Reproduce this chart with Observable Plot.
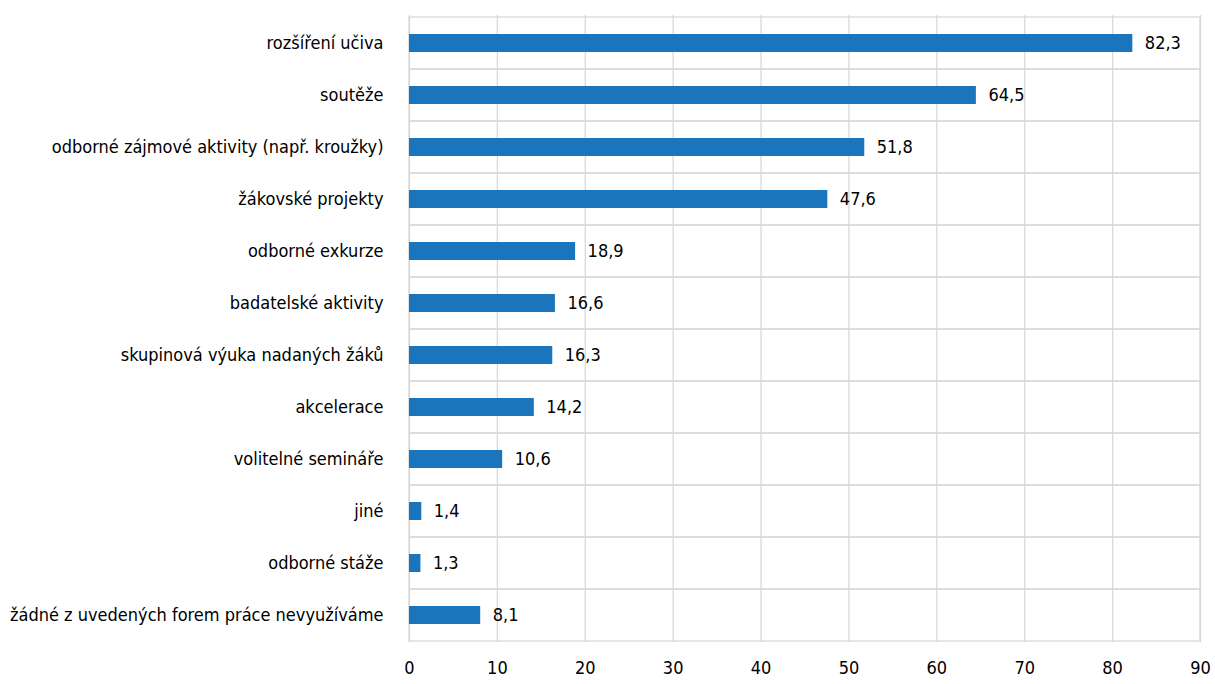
<!DOCTYPE html>
<html><head><meta charset="utf-8">
<script src="https://cdn.jsdelivr.net/npm/d3@7"></script>
<script src="https://cdn.jsdelivr.net/npm/@observablehq/plot@0.6"></script>
<style>
body{margin:0;background:#fff;}
#chart svg{display:block;}
#chart svg text{font-stretch:condensed;}
</style>
</head><body><div id="chart"></div>
<script>
const categories = ["rozšíření učiva","soutěže","odborné zájmové aktivity (např. kroužky)","žákovské projekty","odborné exkurze","badatelské aktivity","skupinová výuka nadaných žáků","akcelerace","volitelné semináře","jiné","odborné stáže","žádné z uvedených forem práce nevyužíváme"];
const values = [82.3,64.5,51.8,47.6,18.9,16.6,16.3,14.2,10.6,1.4,1.3,8.1];
const xTicks = [0,10,20,30,40,50,60,70,80,90];

const data = categories.map((c,i)=>({cat:c, v:values[i]}));
const font = "'DejaVu Sans Condensed','DejaVu Sans',sans-serif";
const fmt = v => v.toFixed(1).replace(".", ",");

const chart = Plot.plot({
  width: 1215, height: 684,
  marginLeft: 409, marginRight: 15, marginTop: 15, marginBottom: 42,
  style: {fontFamily: font, fontSize: "18px", color: "#000", background: "#fff"},
  x: {domain: [0, 90], ticks: xTicks, tickSize: 0, tickPadding: 19, label: null, tickFormat: d => d},
  y: {domain: categories, padding: 0, tickSize: 0, tickPadding: 26, label: null},
  marks: [
    Plot.barX(categories, {y: d => d, x1: 0, x2: 90, fill: "none", stroke: "#d9d9d9", strokeWidth: 1.3}),
    Plot.ruleX(xTicks, {x: d => d, stroke: "#d9d9d9", strokeWidth: 1.3}),
    Plot.barX(data, {y: "cat", x: "v", fill: "#1b75bc", insetTop: 17, insetBottom: 17}),
    Plot.text(data, {y: "cat", x: "v", text: d => fmt(d.v), textAnchor: "start", dx: 12, fontSize: 18, fill: "#000"})
  ]
});
document.getElementById("chart").appendChild(chart);
</script></body></html>
